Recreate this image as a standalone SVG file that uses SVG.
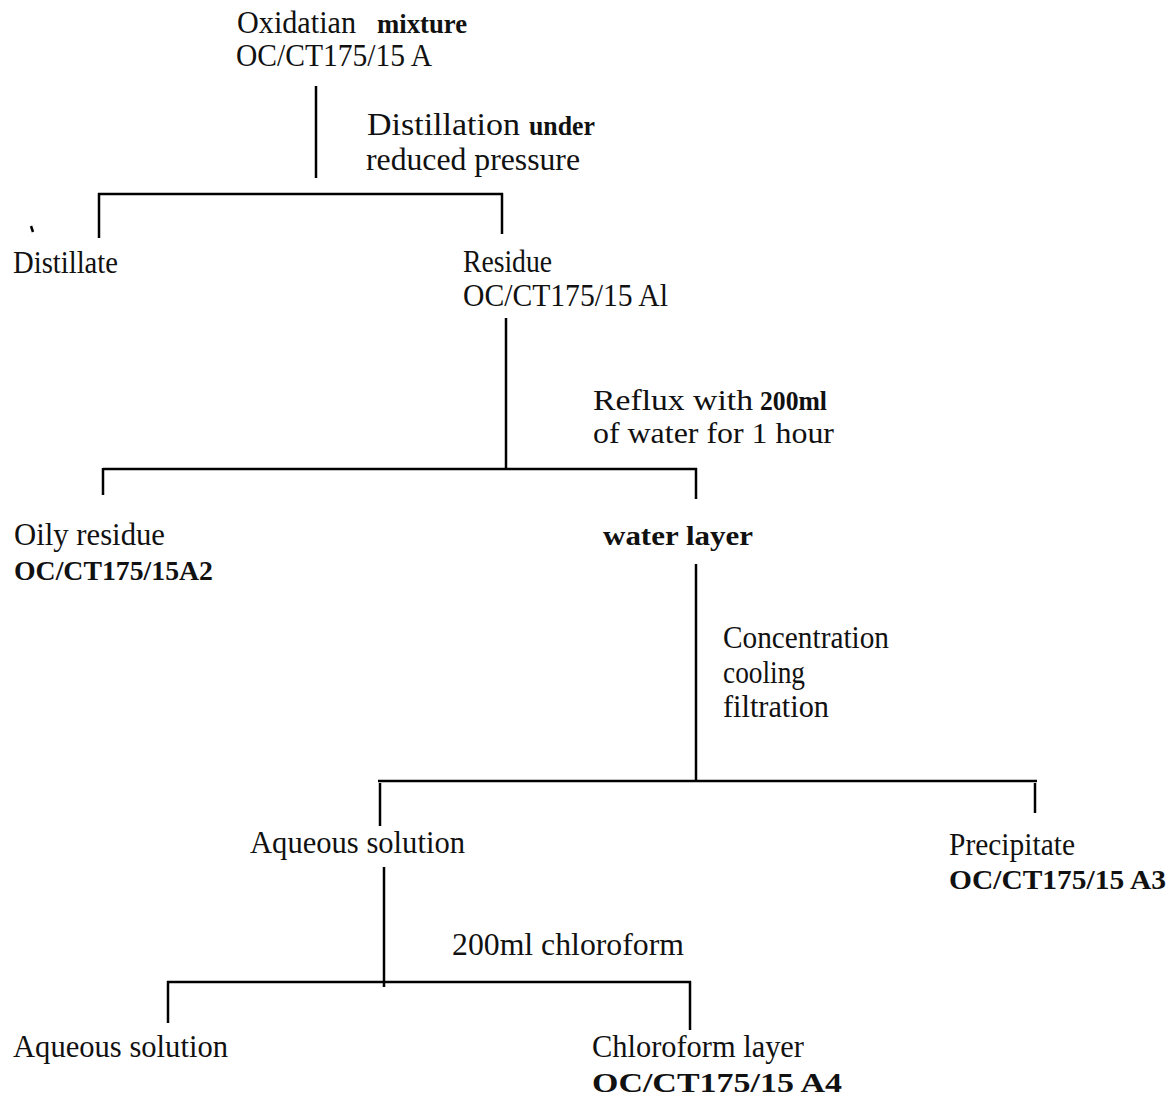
<svg xmlns="http://www.w3.org/2000/svg" width="1171" height="1096" viewBox="0 0 1171 1096">
<style>
text{font-family:"Liberation Serif","Times New Roman",serif;font-size:31px;fill:#111}
.b{font-weight:bold;font-size:28px}
.s{font-size:29px}
.sb{font-weight:bold;font-size:27px}
line,path{stroke:#000;stroke-width:2.5;fill:none}
</style>
<rect width="1171" height="1096" fill="#fff"/>
<g id="connectors">
<line x1="316" y1="86" x2="316" y2="178"/>
<line x1="98" y1="194" x2="503" y2="194"/>
<line x1="99" y1="193" x2="99" y2="238"/>
<line x1="502" y1="193" x2="502" y2="234"/>
<line x1="506" y1="318" x2="506" y2="469"/>
<line x1="103" y1="469" x2="697" y2="469"/>
<line x1="103" y1="468" x2="103" y2="495"/>
<line x1="696" y1="468" x2="696" y2="499"/>
<line x1="696" y1="564" x2="696" y2="781"/>
<line x1="378" y1="781" x2="1037" y2="781"/>
<line x1="380" y1="783" x2="380" y2="826"/>
<line x1="1035" y1="783" x2="1035" y2="813"/>
<line x1="384" y1="867" x2="384" y2="987"/>
<line x1="167" y1="982" x2="691" y2="982"/>
<line x1="168" y1="981" x2="168" y2="1023"/>
<line x1="690" y1="981" x2="690" y2="1030"/>
<path d="M31 226 L33 232" stroke-width="2"/>
</g>
<g id="n-oxidation">
<text x="237" y="33" textLength="119" lengthAdjust="spacingAndGlyphs">Oxidatian</text>
<text class="b" x="377" y="33" textLength="90" lengthAdjust="spacingAndGlyphs">mixture</text>
<text x="236" y="66" textLength="196" lengthAdjust="spacingAndGlyphs">OC/CT175/15 A</text>
</g>
<g id="l-distillation">
<text x="367" y="135" textLength="153" lengthAdjust="spacingAndGlyphs">Distillation</text>
<text class="b" x="529" y="135" textLength="66" lengthAdjust="spacingAndGlyphs">under</text>
<text x="366" y="170" textLength="214" lengthAdjust="spacingAndGlyphs">reduced  pressure</text>
</g>
<g id="n-distillate">
<text x="13" y="273" textLength="105" lengthAdjust="spacingAndGlyphs">Distillate</text>
</g>
<g id="n-residue">
<text x="463" y="272" textLength="89" lengthAdjust="spacingAndGlyphs">Residue</text>
<text x="463" y="306" textLength="205" lengthAdjust="spacingAndGlyphs">OC/CT175/15 Al</text>
</g>
<g id="l-reflux">
<text class="s" x="593" y="410" textLength="160" lengthAdjust="spacingAndGlyphs">Reflux  with</text>
<text class="sb" x="760" y="410" textLength="67" lengthAdjust="spacingAndGlyphs">200ml</text>
<text class="s" x="593" y="443" textLength="241" lengthAdjust="spacingAndGlyphs">of  water  for  1  hour</text>
</g>
<g id="n-oily">
<text x="14" y="545" textLength="151" lengthAdjust="spacingAndGlyphs">Oily  residue</text>
<text class="b" x="14" y="580" textLength="199" lengthAdjust="spacingAndGlyphs">OC/CT175/15A2</text>
</g>
<g id="n-water">
<text class="b" x="603" y="545" textLength="150" lengthAdjust="spacingAndGlyphs">water   layer</text>
</g>
<g id="l-concentration">
<text x="723" y="648" textLength="166" lengthAdjust="spacingAndGlyphs">Concentration</text>
<text x="723" y="683" textLength="82" lengthAdjust="spacingAndGlyphs">cooling</text>
<text x="723" y="717" textLength="106" lengthAdjust="spacingAndGlyphs">filtration</text>
</g>
<g id="n-aqueous1">
<text x="250" y="853" textLength="215" lengthAdjust="spacingAndGlyphs">Aqueous  solution</text>
</g>
<g id="n-precipitate">
<text x="949" y="855" textLength="126" lengthAdjust="spacingAndGlyphs">Precipitate</text>
<text class="b" x="949" y="889" textLength="217" lengthAdjust="spacingAndGlyphs">OC/CT175/15 A3</text>
</g>
<g id="l-chloroform">
<text x="452" y="955" textLength="232" lengthAdjust="spacingAndGlyphs">200ml  chloroform</text>
</g>
<g id="n-aqueous2">
<text x="13" y="1057" textLength="215" lengthAdjust="spacingAndGlyphs">Aqueous  solution</text>
</g>
<g id="n-chloroform">
<text x="592" y="1057" textLength="212" lengthAdjust="spacingAndGlyphs">Chloroform  layer</text>
<text class="b" x="592" y="1092" textLength="250" lengthAdjust="spacingAndGlyphs">OC/CT175/15 A4</text>
</g>
</svg>
